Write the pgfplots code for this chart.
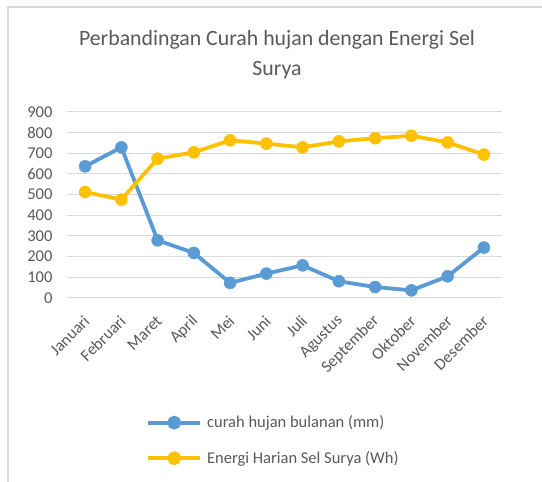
\documentclass[border=0pt]{standalone}
\usepackage{fontspec}
\setmainfont{Carlito}
\usepackage{pgfplots}
\pgfplotsset{compat=1.18}
\definecolor{txt}{HTML}{595959}
\definecolor{gridc}{HTML}{D9D9D9}
\definecolor{cblue}{HTML}{5B9BD5}
\definecolor{cyel}{HTML}{FFC000}
\begin{document}
\begin{tikzpicture}[x=1pt,y=1pt]
\path[use as bounding box] (0,0) rectangle (542,482);
\draw[gridc, line width=2pt] (8,475) -- (542,475);
\draw[gridc, line width=2pt] (8,476) -- (8,0);
\node[anchor=base, text=txt, font=\fontsize{21.8}{26}\selectfont, inner sep=0] at (277,436) {Perbandingan Curah hujan dengan Energi Sel};
\node[anchor=base, text=txt, font=\fontsize{21.8}{26}\selectfont, inner sep=0] at (277,406) {Surya};
\begin{axis}[
  at={(67pt,184pt)}, anchor=south west,
  scale only axis, width=435pt, height=186pt,
  xmin=-0.5, xmax=11.5, ymin=0, ymax=900,
  ytick={0,100,...,900},
  xtick={0,...,11},
  xticklabels={Januari,Februari,Maret,April,Mei,Juni,Juli,Agustus,September,Oktober,November,Desember},
  axis line style={draw=none},
  major tick length=0pt,
  xmajorgrids=false, ymajorgrids=true, grid style={gridc, line width=1pt},
  tick label style={text=txt, font=\fontsize{16.5}{19}\selectfont},
  yticklabel style={/pgf/number format/assume math mode=true, xshift=-11pt},
  xticklabel style={anchor=east, xshift=4pt, yshift=-18pt, rotate=45},
  legend style={draw=none, fill=none, at={(axis description cs:0.182,-0.622)}, anchor=north west,
    font=\fontsize{16.5}{19}\selectfont, text=txt, row sep=18pt, inner sep=0pt,
    /tikz/every even column/.append style={column sep=0pt}},
  legend cell align=left,
  legend image code/.code={\draw[#1, mark=none] (0pt,0pt) -- (52pt,0pt); \fill[#1] (26pt,0pt) circle (5pt);},
  clip=false,
]
\addplot[cblue, line width=3.8pt, mark=*, mark size=6pt, mark options={solid, line width=0.5pt}] coordinates {
(0,637) (1,729) (2,279) (3,218) (4,73) (5,118) (6,158) (7,81) (8,53) (9,37) (10,105) (11,244)};
\addlegendentry{\hspace{3pt}curah hujan bulanan (mm)}
\addplot[cyel, line width=3.8pt, mark=*, mark size=6pt, mark options={solid, line width=0.5pt}] coordinates {
(0,513) (1,476) (2,674) (3,705) (4,763) (5,747) (6,729) (7,758) (8,773) (9,785) (10,753) (11,694)};
\addlegendentry{\hspace{3pt}Energi Harian Sel Surya (Wh)}
\end{axis}
\end{tikzpicture}
\end{document}
